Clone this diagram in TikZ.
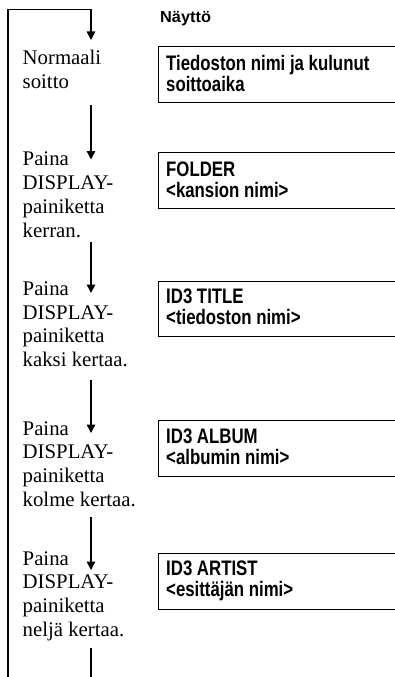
\documentclass[tikz,border=0pt]{standalone}
\usepackage{fontspec}
\setmainfont{Liberation Serif}
\newfontfamily\boxfont[FakeStretch=0.8]{Liberation Sans}
\newfontfamily\headfont[FakeStretch=1.02]{Liberation Sans}
\usetikzlibrary{arrows.meta}
\begin{document}
\begin{tikzpicture}[x=1pt,y=-1pt,
  flow/.style={line width=1.3pt},
  arr/.style={flow,-{Triangle[width=8.5pt,length=8.5pt]}},
  dispbox/.style={draw,line width=1.2pt,anchor=north west,minimum width=300pt,minimum height=55.5pt,inner sep=0pt},
  disptext/.style={anchor=base west,align=left,font=\boxfont\bfseries\fontsize{21}{21}\selectfont,inner sep=0pt},
  steplabel/.style={anchor=base west,align=left,font=\fontsize{20.8}{23.8}\selectfont,inner sep=0pt}]
\useasboundingbox[fill=white] (0,0) rectangle (394,677);

% heading
\node[anchor=base west,inner sep=0pt,font=\headfont\bfseries\fontsize{16}{18}\selectfont] (head) at (160,22.5) {Näyttö};

% step labels (anchor = baseline of last line)
\node[steplabel] (l1) at (22.5,88.3) {Normaali\\soitto};
\node[steplabel] (l2) at (22.5,237) {Paina\\DISPLAY-\\painiketta\\kerran.};
\node[steplabel] (l3) at (22.5,366.7) {Paina\\DISPLAY-\\painiketta\\kaksi kertaa.};
\node[steplabel] (l4) at (22.5,506.5) {Paina\\DISPLAY-\\painiketta\\kolme kertaa.};
\node[steplabel] (l5) at (22.5,636.5) {Paina\\DISPLAY-\\painiketta\\neljä kertaa.};

% display boxes
\node[dispbox] (b1) at (158,46) {};
\node[dispbox] (b2) at (158,152) {};
\node[dispbox] (b3) at (158,280.5) {};
\node[dispbox] (b4) at (158,420) {};
\node[dispbox] (b5) at (158,553) {};
\node[disptext] (t1) at (166,92) {Tiedoston nimi ja kulunut\\soittoaika};
\node[disptext] (t2) at (166,197.5) {FOLDER\\<kansion nimi>};
\node[disptext] (t3) at (166,324) {ID3 TITLE\\<tiedoston nimi>};
\node[disptext] (t4) at (166,464.5) {ID3 ALBUM\\<albumin nimi>};
\node[disptext] (t5) at (166,596) {ID3 ARTIST\\<esittäjän nimi>};

% flow coordinates
\coordinate (e1) at (91,40);
\coordinate (s2) at (91,105);  \coordinate (e2) at (91,159.5);
\coordinate (s3) at (91,242);  \coordinate (e3) at (91,293);
\coordinate (s4) at (91,380);  \coordinate (e4) at (91,433);
\coordinate (s5) at (91,517);  \coordinate (e5) at (91,570);
\coordinate (s6) at (91,648);
\coordinate (bot) at (91,700);
\coordinate (loopb) at (8,700);
\coordinate (loopt) at (8,9.5);
\coordinate (topc) at (91,9.5);

\draw[arr] (s6) -- (bot) -- (loopb) -- (loopt) -- (topc) -- (e1);
\draw[arr] (s2) -- (e2);
\draw[arr] (s3) -- (e3);
\draw[arr] (s4) -- (e4);
\draw[arr] (s5) -- (e5);
\end{tikzpicture}
\end{document}
